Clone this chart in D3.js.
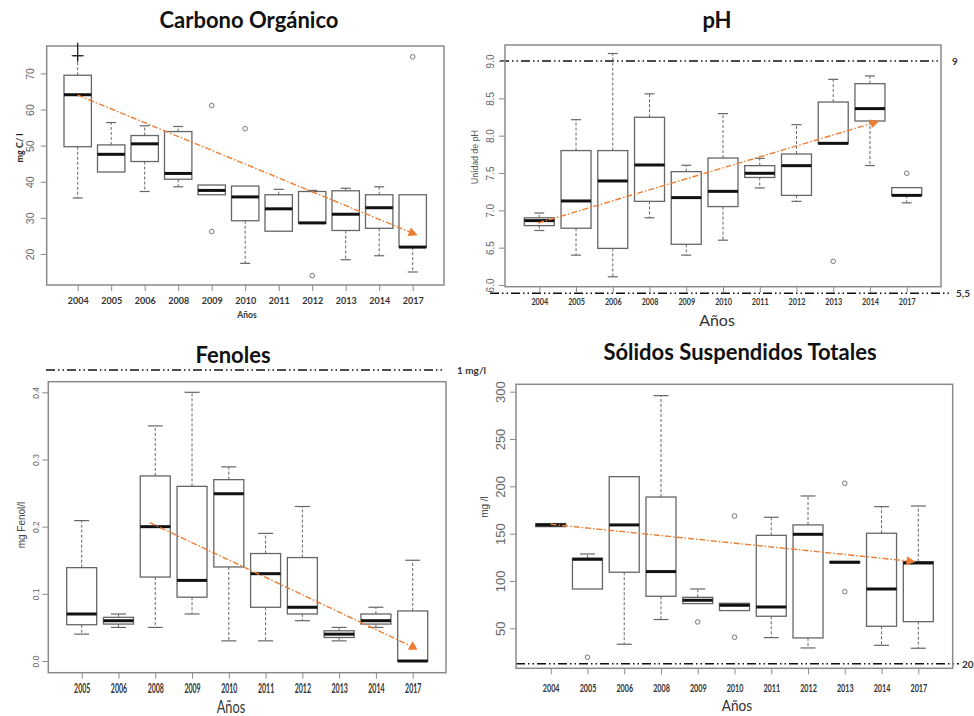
<!DOCTYPE html>
<html>
<head>
<meta charset="utf-8">
<script src="https://cdn.jsdelivr.net/npm/d3@7"></script>
<style>
  body { margin: 0; background: #fff; }
  svg { display: block; }
</style>
</head>
<body>
<svg id="chart" width="974" height="716"></svg>
<script>
// ---- data ----
var allYears = ["2004", "2005", "2006", "2008", "2009", "2010", "2011", "2012", "2013", "2014", "2017"];

// Carbono Orgánico (mg C/ l)
var carbonLow  = [35.5, 42.6, 37.3, 38.6, 36.4, 17.4, 26.1, 28.5, 18.4, 19.5, 15.0];
var carbonQ1   = [49.7, 42.7, 45.6, 40.7, 36.4, 29.2, 26.3, 28.5, 26.5, 27.1, 21.9];
var carbonMed  = [64.1, 47.6, 50.5, 42.3, 37.6, 35.8, 32.5, 28.6, 31.0, 32.8, 21.9];
var carbonQ3   = [69.5, 50.2, 52.8, 53.9, 39.1, 38.8, 36.4, 37.3, 37.5, 36.4, 36.4];
var carbonHigh = [74.9, 56.4, 55.5, 55.3, 39.1, 38.8, 37.9, 37.6, 38.2, 38.6, 36.4];
var carbonOutliers = [["2009", 61.1], ["2009", 26.2], ["2010", 54.7], ["2012", 14.0], ["2017", 74.6]];
var carbonTicks = [20, 30, 40, 50, 60, 70];
var carbonTrend = [[0, 64], [10.12, 25.3]];   // [category index, value]

// pH
var phLow  = [6.73, 6.40, 6.11, 6.90, 6.40, 6.60, 7.30, 7.12, 7.89, 7.60, 7.10];
var phQ1   = [6.795, 6.76, 6.49, 7.12, 6.545, 7.05, 7.44, 7.20, 7.893, 8.196, 7.20];
var phMed  = [6.862, 7.125, 7.393, 7.607, 7.17, 7.254, 7.496, 7.598, 7.897, 8.362, 7.20];
var phQ3   = [6.90, 7.80, 7.80, 8.246, 7.518, 7.70, 7.598, 7.754, 8.45, 8.696, 7.304];
var phHigh = [6.964, 8.214, 9.10, 8.56, 7.603, 8.295, 7.696, 8.147, 8.754, 8.80, 7.304];
var phOutliers = [["2013", 6.317], ["2017", 7.496]];
var phTicks = [6.0, 6.5, 7.0, 7.5, 8.0, 8.5, 9.0];
var phTrend = [[-0.03, 6.83], [9.23, 8.19]];
var phLimits = [{value: 9, label: "9", mode: "scale"}, {value: 5.5, label: "5,5", mode: "below"}];

// Fenoles (mg Fenol/l)
var fenYears = ["2005", "2006", "2008", "2009", "2010", "2011", "2012", "2013", "2014", "2017"];
var fenLow  = [0.040, 0.050, 0.050, 0.070, 0.030, 0.030, 0.060, 0.030, 0.050, 0.000];
var fenQ1   = [0.054, 0.055, 0.125, 0.095, 0.140, 0.080, 0.070, 0.035, 0.055, 0.000];
var fenMed  = [0.070, 0.060, 0.200, 0.120, 0.249, 0.130, 0.080, 0.040, 0.060, 0.000];
var fenQ3   = [0.139, 0.065, 0.2755, 0.260, 0.270, 0.160, 0.154, 0.045, 0.070, 0.0745];
var fenHigh = [0.209, 0.070, 0.350, 0.400, 0.289, 0.190, 0.230, 0.050, 0.080, 0.150];
var fenOutliers = [];
var fenTicks = [0.0, 0.1, 0.2, 0.3, 0.4];
var fenTrend = [[1.85, 0.206], [9, 0.021]];
var fenLimits = [{value: 1, label: "1 mg/l", mode: "above"}];

// Sólidos Suspendidos Totales (mg /l)
var sstLow  = [157.4, 91.5, 33.1, 59.2, 76.1, 68.7, 40.1, 29.2, 119.0, 32.0, 28.9];
var sstQ1   = [157.4, 91.5, 109.2, 83.8, 76.1, 68.7, 62.7, 39.8, 119.0, 52.1, 57.0];
var sstMed  = [159.2, 122.9, 159.2, 109.9, 79.6, 74.3, 72.5, 149.3, 119.8, 91.5, 119.0];
var sstQ3   = [160.6, 124.0, 210.2, 188.7, 82.7, 76.4, 148.2, 159.2, 120.5, 150.4, 120.4];
var sstHigh = [160.6, 128.5, 210.2, 295.8, 91.5, 76.4, 167.3, 189.8, 120.5, 178.5, 179.2];
var sstOutliers = [["2005", 19.4], ["2009", 56.7], ["2010", 168.7], ["2010", 40.5], ["2013", 203.2], ["2013", 88.7]];
var sstTicks = [50, 100, 150, 200, 250, 300];
var sstTrend = [[0, 159.9], [9.9, 120.4]];
var sstLimits = [{value: 20, label: "20", mode: "inner"}];

// ---- styles ----
var frameColor = "#8a8a8a";
var boxColor = "#666";
var trendColor = "#ED7D31";
var calibri = "Lato, 'Open Sans', sans-serif";
var rFont = "'Liberation Sans', Arial, sans-serif";

var svg = d3.select("#chart");
var defs = svg.append("defs");
defs.append("marker")
    .attr("id", "arrow")
    .attr("viewBox", "0 0 10 10")
    .attr("refX", 9).attr("refY", 5)
    .attr("markerUnits", "userSpaceOnUse")
    .attr("markerWidth", 10).attr("markerHeight", 9)
    .attr("orient", "auto")
  .append("path")
    .attr("d", "M0,0 L10,5 L0,10 Z")
    .attr("fill", trendColor);

function draw_panel(p) {
    var L = p.layout;
    var g = svg.append("g");

    var x = d3.scalePoint().domain(p.years).range([L.first, L.last]);
    var xi = d3.scaleLinear().domain([0, p.years.length - 1]).range([L.first, L.last]);
    var y = d3.scaleLinear().domain(L.dom).range([L.y1, L.y0]);

    // limit lines (dash dot dot)
    (p.limits || []).forEach(function(l) {
        var ly;
        if (l.mode == "scale") ly = y(l.value);
        else if (l.mode == "below") ly = L.y1 + L.limGap;
        else if (l.mode == "above") ly = L.y0 - L.limGap;
        else ly = L.y1 - L.limGap;
        var ext = L.limExt[l.label];
        g.append("line")
            .attr("x1", ext[0]).attr("x2", ext[1])
            .attr("y1", ly).attr("y2", ly)
            .attr("stroke", "#111").attr("stroke-width", 1.6)
            .attr("stroke-dasharray", "9,3,1.5,3,1.5,3");
        g.append("text")
            .attr("x", ext[1] + ext[2]).attr("y", ly + 4)
            .attr("font-family", calibri).attr("font-size", 10)
            .attr("font-weight", "bold").attr("fill", "#333")
            .text(l.label);
    });

    // frame
    g.append("rect")
        .attr("x", L.x0).attr("y", L.y0)
        .attr("width", L.x1 - L.x0).attr("height", L.y1 - L.y0)
        .attr("fill", "none").attr("stroke", frameColor).attr("stroke-width", 1.5);

    // y axis
    var yAxis = g.append("g")
        .attr("transform", "translate(" + L.x0 + ",0)")
        .call(d3.axisLeft(y).tickValues(p.ticks).tickSize(6).tickFormat(p.fmt));
    yAxis.select(".domain").remove();
    yAxis.selectAll("line").attr("stroke", frameColor);
    yAxis.selectAll("text")
        .attr("x", 0).attr("y", 0).attr("dy", null)
        .attr("text-anchor", "middle")
        .attr("transform", "translate(" + (L.ytickX - L.x0) + ",0) rotate(-90)")
        .attr("font-family", rFont).attr("font-size", L.ytickSize).attr("fill", "#666");

    // x axis
    var xAxis = g.append("g")
        .attr("transform", "translate(0," + L.y1 + ")")
        .call(d3.axisBottom(x).tickSize(6));
    xAxis.select(".domain").remove();
    xAxis.selectAll("line").attr("stroke", frameColor);
    xAxis.selectAll("text")
        .attr("x", 0).attr("y", 0).attr("dy", null)
        .attr("transform", "translate(0," + (L.xtickY - L.y1) + ") scale(" + L.xtickScale + ",1)")
        .attr("font-family", calibri).attr("font-weight", "bold")
        .attr("font-size", L.xtickSize).attr("fill", "#333");

    // boxes
    var items = p.years.map(function(yr, i) {
        return {year: yr, low: p.low[i], q1: p.q1[i], med: p.med[i], q3: p.q3[i], high: p.high[i]};
    });
    var b = g.selectAll(".box").data(items).enter().append("g").attr("class", "box");

    b.append("line")
        .attr("x1", function(d) { return x(d.year); }).attr("x2", function(d) { return x(d.year); })
        .attr("y1", function(d) { return y(d.q3); }).attr("y2", function(d) { return y(d.high); })
        .attr("stroke", boxColor).attr("stroke-width", 1).attr("stroke-dasharray", "3,2");
    b.append("line")
        .attr("x1", function(d) { return x(d.year); }).attr("x2", function(d) { return x(d.year); })
        .attr("y1", function(d) { return y(d.q1); }).attr("y2", function(d) { return y(d.low); })
        .attr("stroke", boxColor).attr("stroke-width", 1).attr("stroke-dasharray", "3,2");
    ["high", "low"].forEach(function(k) {
        b.filter(function(d) { return Math.abs(y(d[k]) - y(k == "high" ? d.q3 : d.q1)) > 0.8; })
          .append("line")
            .attr("x1", function(d) { return x(d.year) - L.cap; })
            .attr("x2", function(d) { return x(d.year) + L.cap; })
            .attr("y1", function(d) { return y(d[k]); }).attr("y2", function(d) { return y(d[k]); })
            .attr("stroke", boxColor).attr("stroke-width", 1.2);
    });
    b.append("rect")
        .attr("x", function(d) { return x(d.year) - L.half; })
        .attr("y", function(d) { return y(d.q3); })
        .attr("width", L.half * 2)
        .attr("height", function(d) { return Math.max(0.5, y(d.q1) - y(d.q3)); })
        .attr("fill", "#fff").attr("stroke", boxColor).attr("stroke-width", 1.3);
    b.append("line")
        .attr("x1", function(d) { return x(d.year) - L.half; })
        .attr("x2", function(d) { return x(d.year) + L.half; })
        .attr("y1", function(d) { return y(d.med); }).attr("y2", function(d) { return y(d.med); })
        .attr("stroke", "#111").attr("stroke-width", 3);

    // outliers
    g.selectAll(".out").data(p.outliers).enter().append("circle")
        .attr("cx", function(d) { return x(d[0]); })
        .attr("cy", function(d) { return y(d[1]); })
        .attr("r", 2.3)
        .attr("fill", "none").attr("stroke", "#777").attr("stroke-width", 1);

    // trend
    var line = d3.line()
        .x(function(d) { return xi(d[0]); })
        .y(function(d) { return y(d[1]); });
    var tl = g.append("path")
        .datum(p.trend)
        .attr("d", line)
        .attr("fill", "none")
        .attr("stroke", trendColor).attr("stroke-width", 1.4)
        .attr("stroke-dasharray", "6,2,1.5,2");
    if (p.endMark == "triangle") {
        var e = p.trend[p.trend.length - 1];
        g.append("path")
            .attr("d", d3.symbol().type(d3.symbolTriangle).size(40))
            .attr("transform", "translate(" + xi(e[0]) + "," + y(e[1]) + ")")
            .attr("fill", trendColor);
    } else {
        tl.attr("marker-end", "url(#arrow)");
    }

    // titles and labels
    svg.append("text")
        .attr("x", L.titleX).attr("y", L.titleY)
        .attr("text-anchor", "middle")
        .attr("font-family", calibri).attr("font-weight", "bold")
        .attr("font-size", L.titleSize).attr("fill", "#111")
        .text(p.title);
    svg.append("text")
        .attr("transform", "translate(" + L.ylabX + "," + L.ylabY + ") rotate(-90)")
        .attr("text-anchor", "middle")
        .attr("font-family", L.ylabFont).attr("font-weight", L.ylabWeight)
        .attr("font-size", L.ylabSize).attr("fill", L.ylabColor)
        .text(p.yLabel);
    svg.append("text")
        .attr("transform", "translate(" + L.xlabX + "," + L.xlabY + ") scale(" + L.xlabScale + ",1)")
        .attr("text-anchor", "middle")
        .attr("font-family", calibri).attr("font-weight", L.xlabWeight)
        .attr("font-size", L.xlabSize).attr("fill", "#333")
        .text("Años");

    if (p.cursorAt) {
        // cursor cross left on the picture
        var cx = x(p.cursorAt[0]), cy = y(p.cursorAt[1]);
        g.append("path")
            .attr("d", "M" + cx + "," + (cy - 13) + "V" + (cy + 6) + "M" + (cx - 6) + "," + cy + "H" + (cx + 6))
            .attr("stroke", "#111").attr("stroke-width", 1.2);
    }
}

draw_panel({
    title: "Carbono Orgánico", yLabel: "mg C/ l",
    years: allYears, low: carbonLow, q1: carbonQ1, med: carbonMed, q3: carbonQ3, high: carbonHigh,
    outliers: carbonOutliers, ticks: carbonTicks, fmt: d3.format("d"), trend: carbonTrend,
    cursorAt: ["2004", 74.9],
    layout: {x0: 46.7, x1: 444, y0: 46, y1: 285, first: 77.7, last: 412.7, dom: [11.4, 77.6],
             half: 13.7, cap: 5, ytickX: 33.5, ytickSize: 10.5, xtickY: 304, xtickSize: 9, xtickScale: 1,
             titleX: 249, titleY: 28, titleSize: 22,
             ylabX: 22.5, ylabY: 148, ylabFont: calibri, ylabWeight: "bold", ylabSize: 9, ylabColor: "#222",
             xlabX: 247, xlabY: 318, xlabSize: 8.5, xlabWeight: "bold", xlabScale: 1}
});

draw_panel({
    title: "pH", yLabel: "Unidad de pH",
    years: allYears, low: phLow, q1: phQ1, med: phMed, q3: phQ3, high: phHigh,
    outliers: phOutliers, ticks: phTicks, fmt: d3.format(".1f"), trend: phTrend, limits: phLimits,
    layout: {x0: 505, x1: 941, y0: 45, y1: 286.7, first: 539.3, last: 906.7, dom: [5.977, 9.214],
             half: 15, cap: 5, ytickX: 493.5, ytickSize: 10, xtickY: 305, xtickSize: 8.5, xtickScale: 0.85,
             titleX: 717, titleY: 28, titleSize: 22,
             limGap: 6.6, limExt: {"9": [500, 941, 11], "5,5": [490, 950, 6]},
             ylabX: 478, ylabY: 157, ylabFont: calibri, ylabWeight: "normal", ylabSize: 9, ylabColor: "#555",
             xlabX: 717, xlabY: 326, xlabSize: 16, xlabWeight: "normal", xlabScale: 1}
});

draw_panel({
    title: "Fenoles", yLabel: "mg Fenol/l",
    years: fenYears, low: fenLow, q1: fenQ1, med: fenMed, q3: fenQ3, high: fenHigh,
    outliers: fenOutliers, ticks: fenTicks, fmt: d3.format(".1f"), trend: fenTrend, limits: fenLimits,
    endMark: "triangle",
    layout: {x0: 48.3, x1: 446, y0: 381.7, y1: 672.7, first: 81.7, last: 412.7, dom: [-0.0174, 0.4158],
             half: 15, cap: 7.5, ytickX: 39, ytickSize: 8.5, xtickY: 693, xtickSize: 14, xtickScale: 0.5,
             titleX: 233, titleY: 363, titleSize: 22,
             limGap: 11.7, limExt: {"1 mg/l": [46, 445, 12]},
             ylabX: 25, ylabY: 525, ylabFont: rFont, ylabWeight: "normal", ylabSize: 10, ylabColor: "#444",
             xlabX: 231, xlabY: 712.5, xlabSize: 17, xlabWeight: "normal", xlabScale: 0.75}
});

draw_panel({
    title: "Sólidos Suspendidos Totales", yLabel: "mg /l",
    years: allYears, low: sstLow, q1: sstQ1, med: sstMed, q3: sstQ3, high: sstHigh,
    outliers: sstOutliers, ticks: sstTicks, fmt: d3.format("d"), trend: sstTrend, limits: sstLimits,
    layout: {x0: 516, x1: 952.7, y0: 384.3, y1: 668.3, first: 550.7, last: 918.3, dom: [7.7, 307.8],
             half: 15, cap: 7.5, ytickX: 505, ytickSize: 13, xtickY: 692, xtickSize: 12, xtickScale: 0.6,
             titleX: 740, titleY: 360, titleSize: 22,
             limGap: 4.6, limExt: {"20": [516, 959, 3]},
             ylabX: 488, ylabY: 507, ylabFont: rFont, ylabWeight: "normal", ylabSize: 10, ylabColor: "#444",
             xlabX: 737, xlabY: 711, xlabSize: 16, xlabWeight: "normal", xlabScale: 0.85}
});
</script>
</body>
</html>
